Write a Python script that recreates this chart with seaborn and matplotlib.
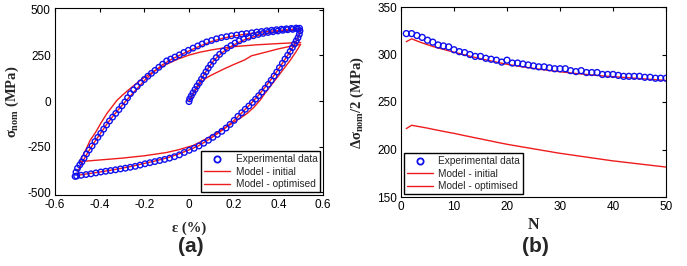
import numpy as np
import pandas as pd
import matplotlib
matplotlib.use("Agg")
import matplotlib.pyplot as plt
import seaborn as sns
from matplotlib.lines import Line2D

# ---------------- Panel (a): hysteresis loop ----------------
# Experimental data (strain %, stress MPa): first loading, unloading, reloading
exp_init_x = [0.000, 0.003, 0.010, 0.018, 0.027, 0.036, 0.046, 0.056, 0.066, 0.076,
              0.086, 0.097, 0.109, 0.122, 0.137, 0.153, 0.170, 0.188, 0.206, 0.225,
              0.245, 0.266, 0.288, 0.310, 0.332, 0.354, 0.376, 0.398, 0.420, 0.442,
              0.464, 0.486]
exp_init_y = [-3, 12, 28, 45, 63, 82, 100, 120, 140, 160,
              180, 199, 218, 238, 256, 274, 290, 304, 318, 330,
              340, 350, 358, 365, 371, 376, 380, 384, 388, 391,
              393, 395]
exp_unload_x = [0.497, 0.494, 0.488, 0.480, 0.472, 0.463, 0.453, 0.442, 0.430, 0.418,
                0.405, 0.393, 0.381, 0.368, 0.355, 0.341, 0.326, 0.312, 0.298, 0.284,
                0.268, 0.252, 0.236, 0.219, 0.202, 0.184, 0.166, 0.147, 0.127, 0.107,
                0.087, 0.066, 0.045, 0.023, 0.001, -0.021, -0.043, -0.065, -0.087, -0.109,
                -0.131, -0.153, -0.175, -0.197, -0.219, -0.241, -0.263, -0.285, -0.307, -0.329,
                -0.351, -0.373, -0.395, -0.417, -0.439, -0.461, -0.483, -0.503]
exp_unload_y = [385, 366, 347, 330, 312, 293, 272, 251, 230, 207,
                183, 159, 137, 114, 92, 70, 49, 29, 10, -8,
                -27, -45, -64, -84, -106, -128, -148, -166, -183, -199,
                -215, -231, -246, -259, -270, -282, -295, -305, -313, -320,
                -326, -332, -338, -344, -351, -358, -363, -368, -372, -377,
                -381, -385, -389, -394, -399, -403, -407, -411]
exp_reload_x = [-0.510, -0.506, -0.499, -0.489, -0.480, -0.470, -0.459, -0.447, -0.434, -0.421,
                -0.408, -0.395, -0.382, -0.369, -0.356, -0.342, -0.328, -0.314, -0.300, -0.287,
                -0.275, -0.262, -0.248, -0.232, -0.216, -0.200, -0.184, -0.168, -0.152, -0.135,
                -0.118, -0.100, -0.082, -0.063, -0.043, -0.023, -0.003, 0.018, 0.039, 0.059,
                0.079, 0.101, 0.123, 0.145, 0.168, 0.190, 0.213, 0.236, 0.258, 0.281,
                0.303, 0.325, 0.348, 0.370, 0.392, 0.414, 0.436, 0.458, 0.480, 0.495]
exp_reload_y = [-413, -390, -368, -350, -334, -313, -290, -268, -246, -222,
                -199, -177, -154, -131, -109, -88, -68, -47, -26, -5,
                18, 41, 61, 80, 100, 118, 136, 152, 168, 185,
                202, 220, 230, 241, 253, 266, 278, 290, 302, 313,
                324, 332, 341, 348, 353, 358, 362, 367, 370, 374,
                378, 381, 385, 388, 391, 394, 396, 398, 400, 399]

# Model - initial (continuous path: loading, unloading, reloading)
mi_x = [0.0, 0.02, 0.04, 0.06, 0.08, 0.10, 0.13, 0.16, 0.20, 0.25, 0.28, 0.35, 0.40, 0.45, 0.50,
        0.48, 0.455, 0.425, 0.395, 0.365, 0.34, 0.318, 0.29, 0.26, 0.228, 0.19, 0.154, 0.115,
        0.079, 0.05, 0.02, -0.05, -0.10, -0.20, -0.30, -0.40, -0.49,
        -0.475, -0.46, -0.443, -0.42, -0.395, -0.368, -0.345, -0.324, -0.30, -0.27, -0.24,
        -0.20, -0.15, -0.10, -0.05, 0.0, 0.05, 0.10, 0.15, 0.20, 0.30, 0.40, 0.50]
mi_y = [0, 40, 80, 110, 128, 142, 160, 178, 200, 226, 248, 270, 286, 299, 311,
        272, 226, 178, 130, 82, 42, 4, -35, -68, -95, -125, -152, -180,
        -205, -225, -243, -268, -282, -300, -313, -323, -332,
        -297, -262, -216, -175, -122, -69, -32, 2, 30, 62, 92,
        130, 168, 202, 230, 252, 268, 280, 290, 298, 308, 315, 321]

# Model - optimised (continuous path)
mo_x = [0.0, 0.01, 0.03, 0.05, 0.07, 0.09, 0.11, 0.13, 0.16, 0.20, 0.25, 0.30, 0.35, 0.40, 0.45, 0.50,
        0.495, 0.485, 0.47, 0.45, 0.425, 0.40, 0.37, 0.34, 0.31, 0.28, 0.24, 0.20, 0.16, 0.12, 0.08,
        0.04, 0.0, -0.05, -0.10, -0.15, -0.20, -0.25, -0.30, -0.35, -0.40, -0.45, -0.50,
        -0.495, -0.485, -0.47, -0.45, -0.425, -0.40, -0.37, -0.34, -0.31, -0.28, -0.24, -0.20,
        -0.16, -0.12, -0.08, -0.04, 0.0, 0.05, 0.10, 0.15, 0.20, 0.25, 0.30, 0.35, 0.40, 0.45, 0.50]
mo_y = [0, 25, 68, 110, 150, 188, 220, 246, 276, 308, 337, 356, 370, 380, 387, 392,
        368, 340, 305, 265, 220, 174, 122, 75, 30, -10, -60, -108, -150, -185, -218,
        -247, -268, -292, -312, -328, -342, -356, -368, -379, -389, -398, -407,
        -380, -352, -318, -276, -228, -184, -130, -82, -38, 4, 58, 112,
        158, 198, 228, 252, 275, 302, 326, 344, 357, 366, 374, 381, 387, 392, 396]

# ---------------- Panel (b): stress amplitude vs cycles ----------------
cycles = list(range(1, 51))
exp_amp = [322, 322, 320, 318, 315, 313, 310, 309, 308, 305,
           303, 302, 300, 298, 298, 296, 295, 294, 292, 294,
           291, 291, 290, 289, 288, 287, 287, 286, 285, 285,
           285, 283, 282, 283, 281, 281, 281, 279, 279, 279,
           278, 277, 277, 277, 277, 276, 276, 275, 275, 275]
init_amp = [222.0, 225.5, 224.5, 223.5, 222.5, 221.3, 220.2, 219.1, 218.0, 217.0,
            215.8, 214.6, 213.5, 212.3, 211.2, 210.0, 208.9, 207.7, 206.6, 205.5,
            204.5, 203.6, 202.6, 201.7, 200.7, 199.8, 198.8, 197.9, 196.9, 196.0,
            195.2, 194.4, 193.6, 192.8, 192.0, 191.2, 190.4, 189.6, 188.8, 188.0,
            187.4, 186.7, 186.1, 185.4, 184.8, 184.1, 183.5, 182.8, 182.2, 181.5]
opt_amp = [313.5, 316.5, 314.3, 312.2, 310.3, 308.5, 306.9, 305.4, 303.9, 302.5,
           301.0, 299.6, 298.2, 296.9, 295.6, 294.4, 293.2, 292.0, 290.8, 289.7,
           288.8, 287.9, 287.0, 286.2, 285.4, 284.6, 283.9, 283.2, 282.5, 281.8,
           281.2, 280.6, 280.0, 279.5, 279.0, 278.5, 278.0, 277.5, 277.1, 276.7,
           276.3, 275.9, 275.5, 275.1, 274.7, 274.3, 273.9, 273.5, 273.1, 272.7]

legend_labels = ["Experimental data", "Model - initial", "Model - optimised"]

# ---------------- Style ----------------
sns.set_style("white")
plt.rcParams["font.family"] = ["Liberation Sans", "DejaVu Sans"]
plt.rcParams["mathtext.fontset"] = "custom"
plt.rcParams["mathtext.rm"] = "Liberation Serif:bold"
plt.rcParams["mathtext.it"] = "Liberation Serif:bold"
plt.rcParams["mathtext.bf"] = "Liberation Serif:bold"

RED = "#ee1c1c"
BLUE = "#1010ee"

fig = plt.figure(figsize=(6.87, 2.66), dpi=100)
axA = fig.add_axes([55 / 687, 1 - 195 / 266, 268 / 687, 187 / 266])
axB = fig.add_axes([401 / 687, 1 - 197 / 266, 265 / 687, 190 / 266])

# Panel (a)
exp_x = exp_init_x + exp_unload_x + exp_reload_x
exp_y = exp_init_y + exp_unload_y + exp_reload_y
sns.lineplot(x=mi_x, y=mi_y, sort=False, estimator=None, color=RED, lw=1.0, ax=axA)
sns.lineplot(x=mo_x, y=mo_y, sort=False, estimator=None, color=RED, lw=1.0, ax=axA)
sns.scatterplot(x=exp_x, y=exp_y, marker="o", s=16, facecolor="none",
                edgecolor=BLUE, linewidth=1.0, ax=axA, zorder=3)
axA.set_xlim(-0.6, 0.6)
axA.set_ylim(-515, 510)
axA.set_xticks([-0.6, -0.4, -0.2, 0, 0.2, 0.4, 0.6])
axA.set_xticklabels(["-0.6", "-0.4", "-0.2", "0", "0.2", "0.4", "0.6"])
axA.set_yticks([-500, -250, 0, 250, 500])
axA.set_yticklabels(["-500", "-250", "0", "250", "500"])

# Panel (b)
sns.lineplot(x=cycles, y=init_amp, color=RED, lw=1.0, ax=axB)
sns.lineplot(x=cycles, y=opt_amp, color=RED, lw=1.0, ax=axB)
sns.scatterplot(x=cycles, y=exp_amp, marker="o", s=18, facecolor="none",
                edgecolor=BLUE, linewidth=1.0, ax=axB, zorder=3)
axB.set_xlim(0, 50)
axB.set_ylim(150, 350)
axB.set_xticks([0, 10, 20, 30, 40, 50])
axB.set_yticks([150, 200, 250, 300, 350])

for ax in (axA, axB):
    ax.tick_params(direction="in", length=3, width=0.8, top=True, right=True,
                   labelsize=8.5, pad=3, colors="black")
    for sp in ax.spines.values():
        sp.set_visible(True)
        sp.set_color("black")
        sp.set_linewidth(0.8)
    ax.set_xlabel("")
    ax.set_ylabel("")

lab_kw = dict(fontfamily="Liberation Serif", fontweight="bold", fontsize=10.5, va="center")
axA.set_xlabel("ε (%)", **lab_kw)
axA.xaxis.set_label_coords(0.5, -0.176)
axA.set_ylabel(r"$\sigma_{nom}$ (MPa)", **lab_kw)
axA.yaxis.set_label_coords(-0.160, 0.5)
axB.set_xlabel("N", fontfamily="Liberation Serif", fontweight="bold", fontsize=11.5, va="center")
axB.xaxis.set_label_coords(0.5, -0.147)
axB.set_ylabel(r"$\Delta\sigma_{nom}$/2 (MPa)", **lab_kw)
axB.yaxis.set_label_coords(-0.166, 0.5)

def make_handles():
    return [Line2D([], [], marker="o", ls="none", mfc="none", mec=BLUE, ms=4.5, mew=1.3),
            Line2D([], [], color=RED, lw=1.0),
            Line2D([], [], color=RED, lw=1.0)]

for ax, loc in ((axA, "lower right"), (axB, "lower left")):
    leg = ax.legend(make_handles(), legend_labels, loc=loc, fontsize=7.3, frameon=True,
                    fancybox=False, edgecolor="black", framealpha=1,
                    borderaxespad=0.25, handlelength=2.6, borderpad=0.3,
                    labelspacing=0.25, handletextpad=0.5)
    leg.get_frame().set_linewidth(1.0)

fig.text(190.7 / 687, 1 - 247 / 266, "(a)", ha="center", va="center",
         fontsize=15, fontweight="bold")
fig.text(535 / 687, 1 - 247 / 266, "(b)", ha="center", va="center",
         fontsize=15, fontweight="bold")

fig.savefig("out.png", dpi=100)
